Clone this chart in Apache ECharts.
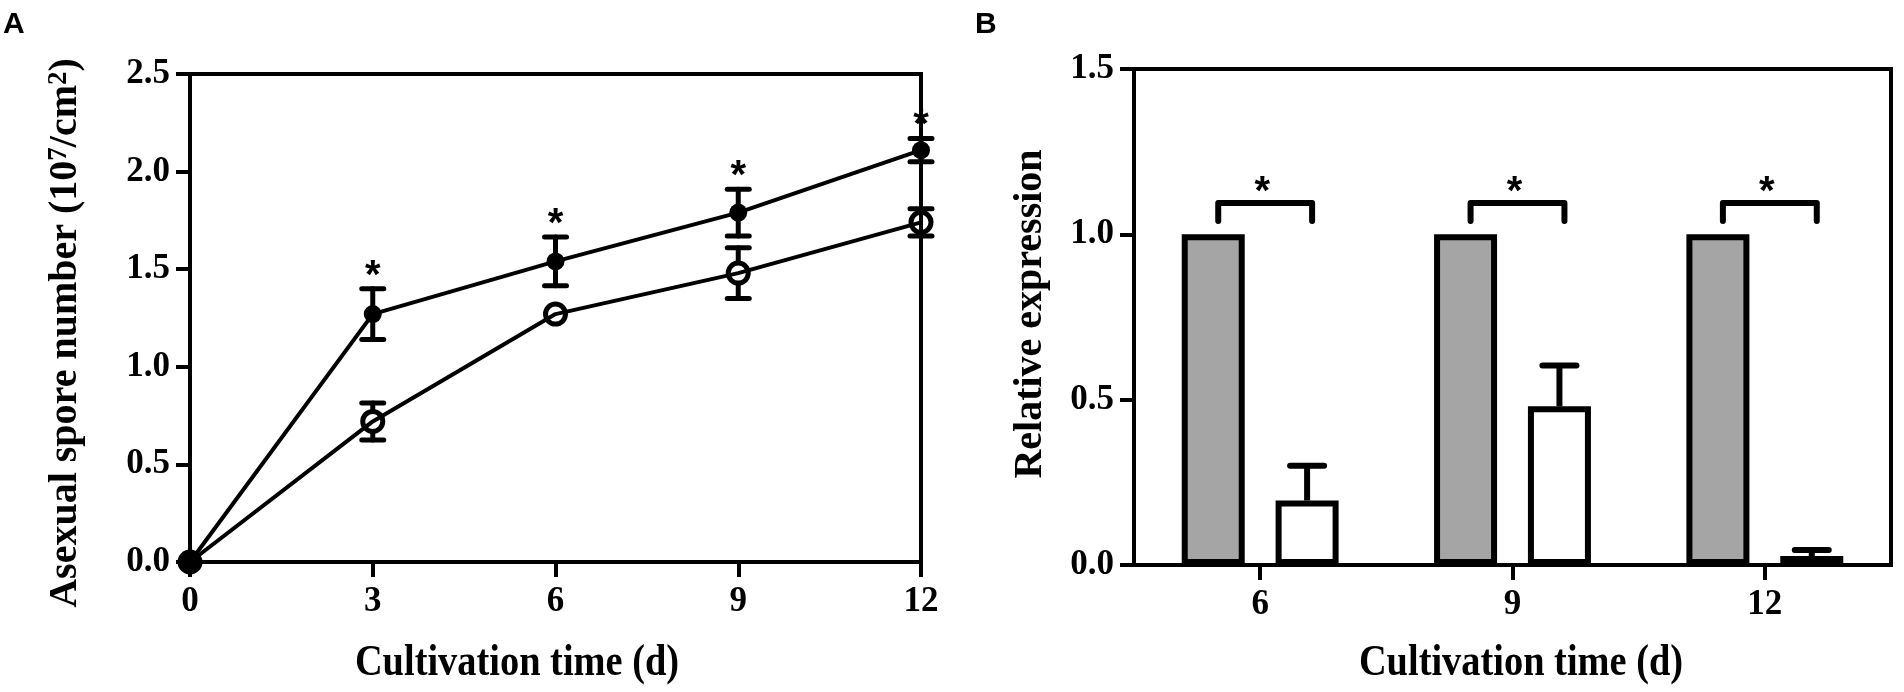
<!DOCTYPE html>
<html><head><meta charset="utf-8">
<script src="https://cdn.jsdelivr.net/npm/echarts@6/dist/echarts.min.js"></script>
<style>html,body{margin:0;padding:0;background:#fff}#c{width:1904px;height:692px}</style>
</head><body><div id="c"></div>
<script>
// ---- Panel A data ----
const daysA = [0, 3, 6, 9, 12];
const filledMean = [0, 1.27, 1.54, 1.79, 2.11];
const filledErr = [0, 0.13, 0.125, 0.12, 0.06];
const openMean = [0, 0.72, 1.27, 1.48, 1.74];
const openErr = [0, 0.095, 0, 0.13, 0.07];
const sigA = [0, 1, 1, 1, 1];

// ---- Panel B data ----
const categoriesB = ['6', '9', '12'];
const grayBars = [1, 1, 1];
const whiteBars = [0.195, 0.48, 0.027];
const whiteErr = [0.105, 0.123, 0.018];
const bracketLevel = [1.095, 1.095, 1.095];
const bracketLegEnd = [1.04, 1.04, 1.04];

const SERIF = '"Liberation Serif", "Times New Roman", serif';
const SANS = '"Liberation Sans", Arial, sans-serif';
const BAR_W = 63, BAR_GAP = 0.49;

const axisCommon = {
  axisLine: { show: true, lineStyle: { color: '#000', width: 4 } },
  axisTick: { show: true, inside: false, lineStyle: { color: '#000', width: 4 } },
  axisLabel: { color: '#000', fontSize: 35, fontWeight: 'bold', fontFamily: SERIF },
  splitLine: { show: false }
};

function errA(params, api) {
  const x = api.value(0), m = api.value(1), e = api.value(2), sig = api.value(3), open = api.value(4);
  const children = [];
  const pc = api.coord([x, m]);
  if (e > 0) {
    const pt = api.coord([x, m + e]);
    const pb = api.coord([x, m - e]);
    const r = open ? 11 : 0;
    const st = { stroke: '#000', lineWidth: 5, lineCap: 'round' };
    children.push({ type: 'line', shape: { x1: pc[0], y1: pt[1], x2: pc[0], y2: pc[1] - r }, style: st });
    children.push({ type: 'line', shape: { x1: pc[0], y1: pc[1] + r, x2: pc[0], y2: pb[1] }, style: st });
    children.push({ type: 'line', shape: { x1: pc[0] - 11, y1: pt[1], x2: pc[0] + 11, y2: pt[1] }, style: st });
    children.push({ type: 'line', shape: { x1: pc[0] - 11, y1: pb[1], x2: pc[0] + 11, y2: pb[1] }, style: st });
    if (sig) {
      children.push({ type: 'text', x: pc[0], y: pt[1] - 12, style: { text: '*', fill: '#000', fontSize: 40, fontWeight: 'bold', fontFamily: SANS, align: 'center', verticalAlign: 'middle' } });
    }
  }
  return { type: 'group', children };
}

function errB(params, api) {
  const i = api.value(0), v = api.value(1), e = api.value(2), lv = api.value(3), le = api.value(4);
  const c = api.coord([i, v]);
  const off = BAR_W * (1 + BAR_GAP) / 2;
  const wx = c[0] + off, gx = c[0] - off;
  const pt = api.coord([i, v + e]);
  const py = api.coord([i, lv])[1], pe = api.coord([i, le])[1];
  const st = { stroke: '#000', lineWidth: 6, lineCap: 'round', lineJoin: 'round', fill: null };
  return {
    type: 'group', children: [
      { type: 'line', shape: { x1: wx, y1: c[1], x2: wx, y2: pt[1] }, style: { stroke: '#000', lineWidth: 6 } },
      { type: 'line', shape: { x1: wx - 17, y1: pt[1], x2: wx + 17, y2: pt[1] }, style: st },
      { type: 'polyline', shape: { points: [[gx + 5, pe], [gx + 5, py], [wx + 5, py], [wx + 5, pe]] }, style: st },
      { type: 'text', x: c[0] + 2, y: py - 10, style: { text: '*', fill: '#000', fontSize: 40, fontWeight: 'bold', fontFamily: SANS, align: 'center', verticalAlign: 'middle' } }
    ]
  };
}

const chart = echarts.init(document.getElementById('c'), null, { renderer: 'canvas' });
chart.setOption({
  animation: false,
  backgroundColor: '#fff',
  grid: [
    { left: 190, right: 983, top: 74, bottom: 130, show: true, borderColor: '#000', borderWidth: 4, containLabel: false, outerBoundsMode: 'none' },
    { left: 1134, right: 13, top: 69, bottom: 127, show: true, borderColor: '#000', borderWidth: 4, containLabel: false, outerBoundsMode: 'none' }
  ],
  xAxis: [
    Object.assign({}, axisCommon, { type: 'value', gridIndex: 0, min: 0, max: 12, interval: 3,
      axisTick: Object.assign({}, axisCommon.axisTick, { length: 15 }),
      axisLabel: Object.assign({}, axisCommon.axisLabel, { margin: 22 }) }),
    Object.assign({}, axisCommon, { type: 'category', gridIndex: 1, data: categoriesB,
      axisTick: Object.assign({}, axisCommon.axisTick, { length: 15, alignWithLabel: true }),
      axisLabel: Object.assign({}, axisCommon.axisLabel, { margin: 22 }) })
  ],
  yAxis: [
    Object.assign({}, axisCommon, { type: 'value', gridIndex: 0, min: 0, max: 2.5, interval: 0.5,
      axisTick: Object.assign({}, axisCommon.axisTick, { length: 14 }),
      axisLabel: Object.assign({}, axisCommon.axisLabel, { margin: 20, formatter: v => v.toFixed(1) }) }),
    Object.assign({}, axisCommon, { type: 'value', gridIndex: 1, min: 0, max: 1.5, interval: 0.5,
      axisTick: Object.assign({}, axisCommon.axisTick, { length: 14 }),
      axisLabel: Object.assign({}, axisCommon.axisLabel, { margin: 20, formatter: v => v.toFixed(1) }) })
  ],
  series: [
    { type: 'line', xAxisIndex: 0, yAxisIndex: 0, clip: false, z: 3,
      data: daysA.map((d, i) => [d, openMean[i]]),
      symbol: 'circle', symbolSize: 20,
      itemStyle: { color: 'rgba(0,0,0,0)', borderColor: '#000', borderWidth: 5 },
      lineStyle: { color: '#000', width: 4 } },
    { type: 'line', xAxisIndex: 0, yAxisIndex: 0, clip: false, z: 4,
      data: daysA.map((d, i) => [d, filledMean[i]]),
      symbol: 'circle', symbolSize: 18,
      itemStyle: { color: '#000' },
      lineStyle: { color: '#000', width: 4 } },
    { type: 'custom', xAxisIndex: 0, yAxisIndex: 0, clip: false, z: 5, renderItem: errA,
      data: daysA.map((d, i) => [d, openMean[i], openErr[i], 0, 1]).concat(daysA.map((d, i) => [d, filledMean[i], filledErr[i], sigA[i], 0])) },
    { type: 'bar', xAxisIndex: 1, yAxisIndex: 1, data: grayBars, barWidth: BAR_W, barGap: (BAR_GAP * 100) + '%',
      itemStyle: { color: '#a5a5a5', borderColor: '#000', borderWidth: 6 } },
    { type: 'bar', xAxisIndex: 1, yAxisIndex: 1, data: whiteBars, barWidth: BAR_W, barGap: (BAR_GAP * 100) + '%',
      itemStyle: { color: '#fff', borderColor: '#000', borderWidth: 6 } },
    { type: 'custom', xAxisIndex: 1, yAxisIndex: 1, clip: false, z: 5, renderItem: errB,
      data: categoriesB.map((c, i) => [i, whiteBars[i], whiteErr[i], bracketLevel[i], bracketLegEnd[i]]) }
  ],
  graphic: [
    { type: 'text', x: 3, y: 25, style: { text: 'A', fill: '#000', fontSize: 30, fontWeight: 'bold', fontFamily: SANS, align: 'left', verticalAlign: 'middle' } },
    { type: 'text', x: 975, y: 25, style: { text: 'B', fill: '#000', fontSize: 30, fontWeight: 'bold', fontFamily: SANS, align: 'left', verticalAlign: 'middle' } },
    { type: 'text', x: 66, y: 333, rotation: Math.PI / 2,
      style: { text: 'Asexual spore number (10{s|7}/cm{s|2})', fill: '#000', fontSize: 40, fontWeight: 'bold', fontFamily: SERIF, align: 'center', verticalAlign: 'middle',
        rich: { s: { fontSize: 27, fontWeight: 'bold', fontFamily: SERIF, fill: '#000', verticalAlign: 'top' } } } },
    { type: 'text', x: 1031, y: 314, rotation: Math.PI / 2,
      style: { text: 'Relative expression', fill: '#000', fontSize: 40, fontWeight: 'bold', fontFamily: SERIF, align: 'center', verticalAlign: 'middle' } },
    { type: 'text', x: 517, y: 663, scaleX: 0.96, scaleY: 1.12, style: { text: 'Cultivation time (d)', fill: '#000', fontSize: 40, fontWeight: 'bold', fontFamily: SERIF, align: 'center', verticalAlign: 'middle' } },
    { type: 'text', x: 1521, y: 663, scaleX: 0.96, scaleY: 1.12, style: { text: 'Cultivation time (d)', fill: '#000', fontSize: 40, fontWeight: 'bold', fontFamily: SERIF, align: 'center', verticalAlign: 'middle' } }
  ]
});
</script></body></html>
